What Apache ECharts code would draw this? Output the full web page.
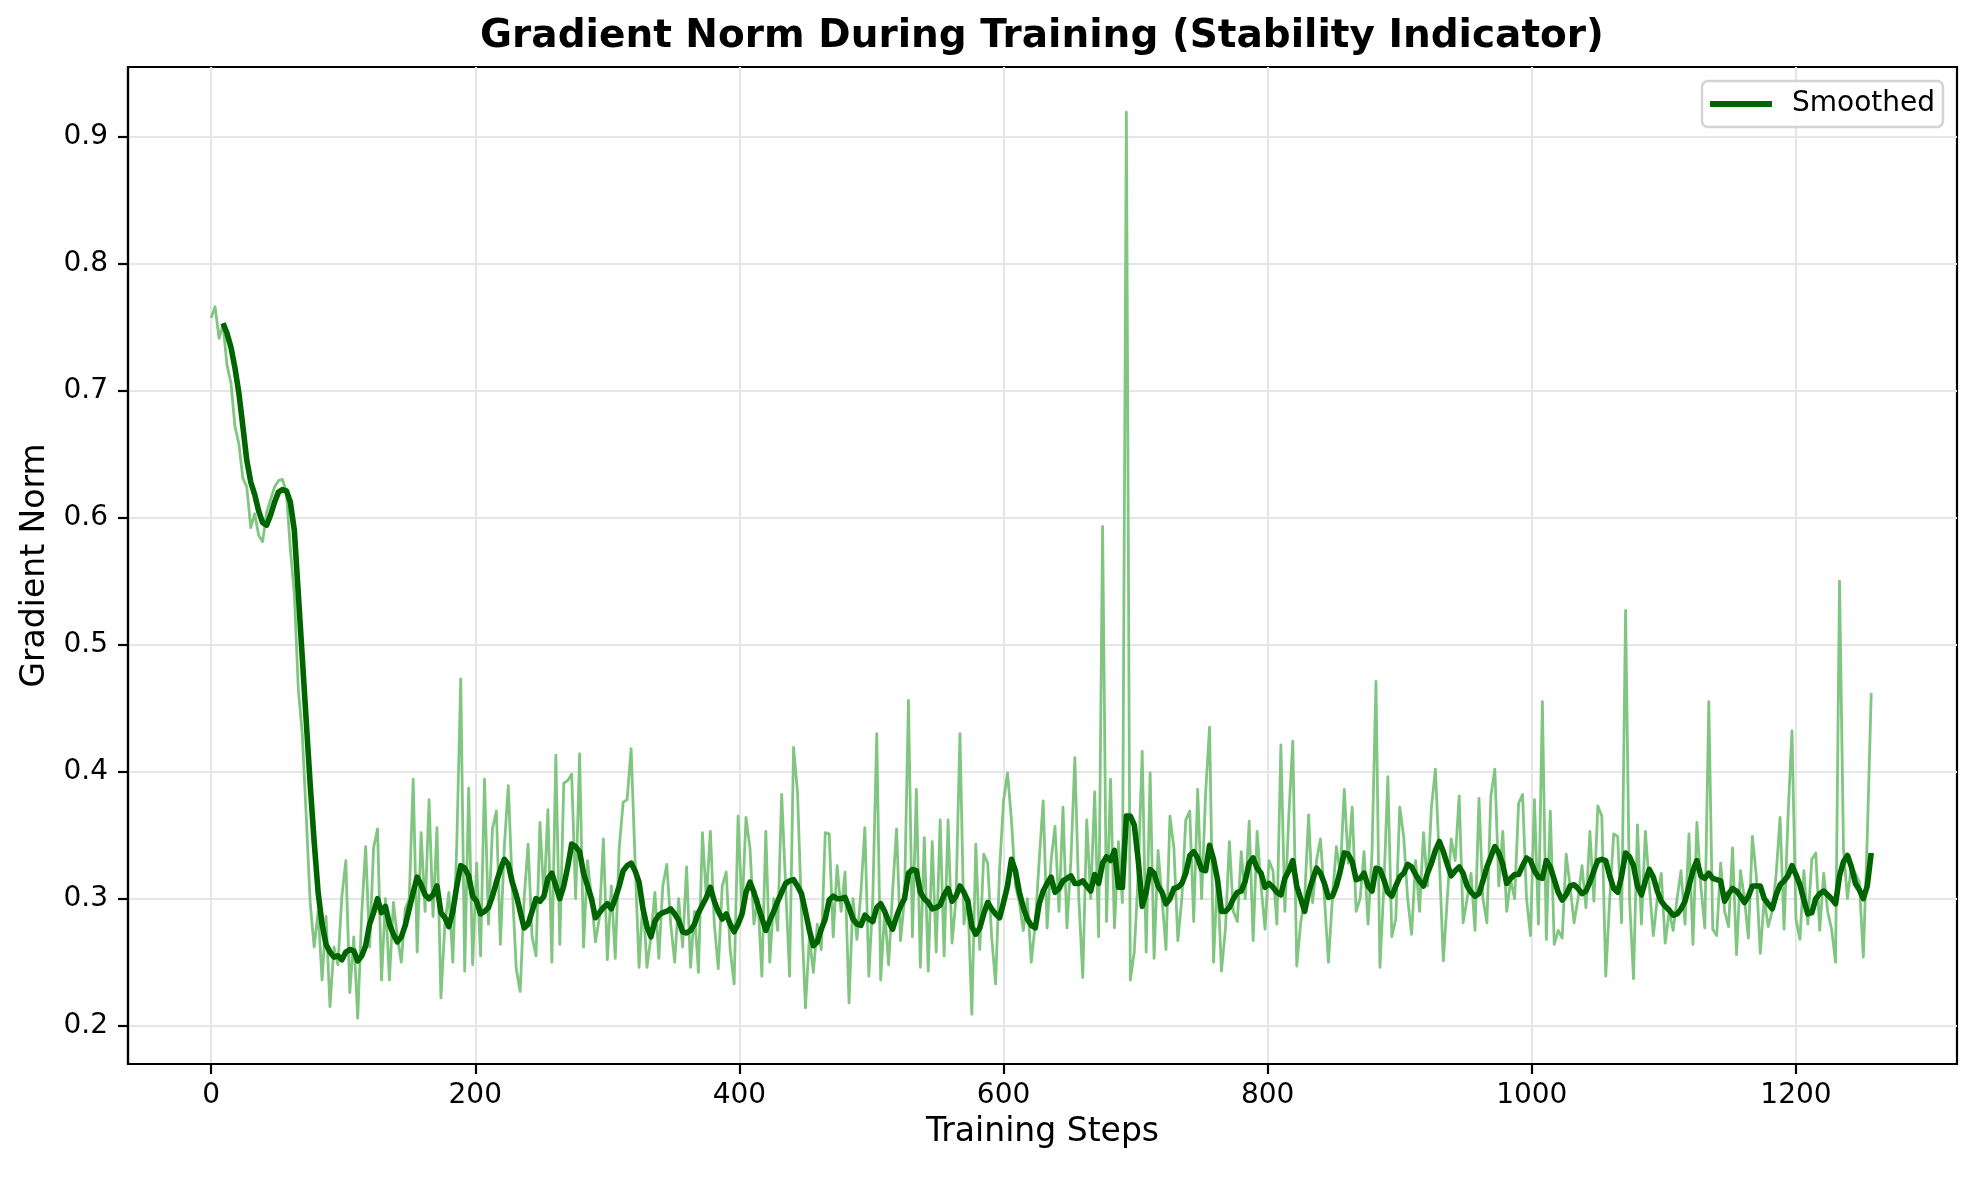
<!DOCTYPE html>
<html lang="en">

<head>
    <meta charset="UTF-8">
    <title>Gradient Norm During Training</title>
    <style>
        * {
            margin: 0;
            padding: 0;
        }

        body {
            background-color: white;
        }

        #main {
            width: 1977px;
            height: 1177px;
        }
    </style>
    <script src="https://cdn.jsdelivr.net/npm/echarts@6/dist/echarts.min.js"></script>
</head>

<body>

<div id="main"></div>
<script>
    // raw gradient norm, read every 3rd step starting at step 0
    const RAW_START = 0;
    const RAW_STRIDE = 3;
    const rawNorm = [
        0.757, 0.766, 0.741, 0.752, 0.72, 0.706, 0.672, 0.658, 0.631, 0.624,
        0.592, 0.603, 0.586, 0.581, 0.604, 0.614, 0.624, 0.629, 0.63, 0.62,
        0.575, 0.54, 0.465, 0.43, 0.365, 0.297, 0.262, 0.29, 0.236, 0.286,
        0.215, 0.262, 0.248, 0.302, 0.33, 0.226, 0.27, 0.206, 0.288, 0.341,
        0.262, 0.34, 0.355, 0.236, 0.3, 0.236, 0.297, 0.27, 0.25, 0.292,
        0.3, 0.394, 0.258, 0.352, 0.29, 0.378, 0.286, 0.356, 0.222, 0.28,
        0.305, 0.25, 0.343, 0.473, 0.243, 0.387, 0.248, 0.328, 0.255, 0.394,
        0.28, 0.355, 0.369, 0.264, 0.341, 0.389, 0.31, 0.245, 0.227, 0.3,
        0.343, 0.27, 0.255, 0.36, 0.3, 0.37, 0.25, 0.413, 0.264, 0.391,
        0.393, 0.398, 0.3, 0.414, 0.262, 0.33, 0.3, 0.266, 0.285, 0.347,
        0.252, 0.31, 0.253, 0.34, 0.376, 0.378, 0.418, 0.33, 0.246, 0.3,
        0.246, 0.27, 0.305, 0.253, 0.31, 0.327, 0.28, 0.25, 0.3, 0.262,
        0.325, 0.246, 0.29, 0.242, 0.352, 0.3, 0.353, 0.28, 0.245, 0.31,
        0.321, 0.26, 0.233, 0.365, 0.29, 0.364, 0.34, 0.28, 0.3, 0.239,
        0.353, 0.25, 0.3, 0.275, 0.382, 0.31, 0.239, 0.419, 0.384, 0.29,
        0.214, 0.27, 0.242, 0.28, 0.26, 0.352, 0.351, 0.27, 0.326, 0.29,
        0.321, 0.218, 0.3, 0.268, 0.305, 0.356, 0.239, 0.3, 0.43, 0.236,
        0.29, 0.248, 0.306, 0.355, 0.267, 0.3, 0.456, 0.27, 0.386, 0.246,
        0.348, 0.243, 0.345, 0.258, 0.362, 0.255, 0.362, 0.265, 0.3, 0.43,
        0.28, 0.3, 0.209, 0.343, 0.26, 0.335, 0.328, 0.27, 0.233, 0.323,
        0.377, 0.399, 0.362, 0.31, 0.297, 0.275, 0.3, 0.25, 0.28, 0.33,
        0.377, 0.277, 0.33, 0.357, 0.29, 0.372, 0.277, 0.33, 0.411, 0.3,
        0.238, 0.362, 0.3, 0.384, 0.27, 0.593, 0.282, 0.394, 0.277, 0.345,
        0.297, 0.919, 0.236, 0.258, 0.32, 0.416, 0.258, 0.399, 0.253, 0.338,
        0.3, 0.26, 0.365, 0.34, 0.267, 0.3, 0.362, 0.369, 0.282, 0.386,
        0.3, 0.383, 0.435, 0.25, 0.32, 0.243, 0.276, 0.345, 0.29, 0.282,
        0.337, 0.3, 0.361, 0.267, 0.353, 0.31, 0.276, 0.33, 0.322, 0.28,
        0.421, 0.29, 0.365, 0.424, 0.247, 0.281, 0.3, 0.366, 0.297, 0.33,
        0.347, 0.3, 0.25, 0.3, 0.341, 0.32, 0.386, 0.328, 0.372, 0.29,
        0.3, 0.337, 0.28, 0.336, 0.471, 0.246, 0.31, 0.396, 0.27, 0.284,
        0.372, 0.349, 0.3, 0.272, 0.33, 0.29, 0.352, 0.31, 0.372, 0.402,
        0.33, 0.251, 0.3, 0.347, 0.33, 0.381, 0.281, 0.3, 0.32, 0.275,
        0.379, 0.3, 0.281, 0.381, 0.402, 0.31, 0.353, 0.29, 0.315, 0.3,
        0.375, 0.382, 0.3, 0.271, 0.378, 0.28, 0.455, 0.268, 0.369, 0.264,
        0.275, 0.269, 0.335, 0.31, 0.281, 0.3, 0.326, 0.293, 0.353, 0.298,
        0.373, 0.365, 0.239, 0.3, 0.351, 0.349, 0.281, 0.527, 0.3, 0.237,
        0.358, 0.28, 0.353, 0.31, 0.271, 0.3, 0.32, 0.265, 0.29, 0.275,
        0.3, 0.322, 0.28, 0.351, 0.264, 0.36, 0.31, 0.277, 0.455, 0.276,
        0.271, 0.328, 0.29, 0.278, 0.34, 0.256, 0.322, 0.3, 0.269, 0.349,
        0.318, 0.257, 0.3, 0.278, 0.29, 0.319, 0.364, 0.276, 0.365, 0.432,
        0.284, 0.268, 0.322, 0.28, 0.331, 0.336, 0.275, 0.32, 0.29, 0.276,
        0.25, 0.55, 0.339, 0.3, 0.326, 0.32, 0.313, 0.254, 0.348, 0.462
    ];

    // smoothed curve, read every 3rd step starting at step 9
    const SMOOTH_START = 9;
    const SMOOTH_STRIDE = 3;
    const smoothedNorm = [
        0.753, 0.745, 0.734, 0.718, 0.698, 0.672, 0.645, 0.628, 0.618, 0.605,
        0.596, 0.594, 0.602, 0.612, 0.62, 0.622, 0.621, 0.612, 0.59, 0.54,
        0.49, 0.44, 0.39, 0.345, 0.305, 0.28, 0.264, 0.258, 0.254, 0.255,
        0.252, 0.258, 0.26, 0.259, 0.251, 0.255, 0.263, 0.28, 0.289, 0.3,
        0.289, 0.294, 0.28, 0.272, 0.266, 0.27, 0.279, 0.292, 0.305, 0.317,
        0.311, 0.303, 0.3, 0.303, 0.31, 0.289, 0.285, 0.278, 0.29, 0.31,
        0.326, 0.324, 0.318, 0.302, 0.298, 0.288, 0.29, 0.293, 0.302, 0.313,
        0.323, 0.331, 0.327, 0.313, 0.303, 0.29, 0.277, 0.28, 0.29, 0.3,
        0.298, 0.302, 0.316, 0.32, 0.31, 0.3, 0.31, 0.325, 0.343, 0.341,
        0.337, 0.32, 0.31, 0.3, 0.285, 0.289, 0.293, 0.296, 0.292, 0.3,
        0.31, 0.322, 0.326, 0.328, 0.322, 0.313, 0.292, 0.278, 0.27, 0.282,
        0.287, 0.289, 0.29, 0.292, 0.288, 0.283, 0.274, 0.273, 0.275, 0.28,
        0.289, 0.295, 0.301, 0.309, 0.298, 0.29, 0.284, 0.288, 0.28, 0.274,
        0.28, 0.288, 0.305, 0.313, 0.305, 0.295, 0.285, 0.275, 0.283, 0.29,
        0.298, 0.305, 0.312, 0.314, 0.315, 0.31, 0.304, 0.29, 0.275, 0.263,
        0.266, 0.276, 0.284, 0.299, 0.302, 0.3, 0.3, 0.301, 0.293, 0.284,
        0.28, 0.279, 0.287, 0.284, 0.282, 0.293, 0.296, 0.29, 0.282, 0.276,
        0.286, 0.294, 0.3, 0.32, 0.323, 0.322, 0.305, 0.3, 0.297, 0.292,
        0.293, 0.295, 0.303, 0.308, 0.298, 0.302, 0.31, 0.305, 0.298, 0.278,
        0.272, 0.277, 0.288, 0.297, 0.292, 0.288, 0.285, 0.297, 0.31, 0.331,
        0.322, 0.305, 0.293, 0.284, 0.279, 0.277, 0.296, 0.306, 0.312, 0.317,
        0.305, 0.308, 0.314, 0.316, 0.318, 0.312, 0.312, 0.314, 0.31, 0.306,
        0.319, 0.312, 0.328, 0.333, 0.33, 0.338, 0.309, 0.309, 0.365, 0.365,
        0.358, 0.33, 0.294, 0.305, 0.323, 0.32, 0.31, 0.305, 0.296, 0.3,
        0.308, 0.309, 0.312, 0.32, 0.334, 0.337, 0.332, 0.323, 0.322, 0.342,
        0.331, 0.315, 0.29, 0.29, 0.293, 0.3, 0.305, 0.306, 0.314, 0.328,
        0.332, 0.324, 0.32, 0.309, 0.312, 0.309, 0.305, 0.303, 0.316, 0.322,
        0.33, 0.31, 0.3, 0.29, 0.305, 0.315, 0.324, 0.32, 0.312, 0.301,
        0.302, 0.31, 0.322, 0.336, 0.335, 0.329, 0.315, 0.316, 0.32, 0.31,
        0.306, 0.324, 0.323, 0.315, 0.305, 0.302, 0.31, 0.317, 0.32, 0.327,
        0.325, 0.319, 0.314, 0.31, 0.32, 0.328, 0.338, 0.345, 0.337, 0.327,
        0.318, 0.322, 0.325, 0.32, 0.31, 0.305, 0.302, 0.304, 0.314, 0.325,
        0.333, 0.341, 0.336, 0.327, 0.312, 0.316, 0.319, 0.319, 0.326, 0.332,
        0.33, 0.322, 0.317, 0.316, 0.33, 0.325, 0.315, 0.305, 0.299, 0.303,
        0.31, 0.311, 0.308, 0.304, 0.306, 0.313, 0.322, 0.33, 0.331, 0.33,
        0.318, 0.308, 0.305, 0.318, 0.336, 0.333, 0.326, 0.31, 0.303, 0.314,
        0.323, 0.317, 0.306, 0.298, 0.294, 0.291, 0.287, 0.288, 0.292, 0.298,
        0.31, 0.322, 0.33, 0.318, 0.316, 0.32, 0.316, 0.315, 0.314, 0.298,
        0.304, 0.308, 0.306, 0.302, 0.297, 0.302, 0.31, 0.31, 0.31, 0.3,
        0.296, 0.292, 0.303, 0.311, 0.314, 0.318, 0.326, 0.319, 0.311, 0.299,
        0.288, 0.289, 0.3, 0.304, 0.306, 0.303, 0.3, 0.296, 0.318, 0.329,
        0.334, 0.325, 0.312, 0.307, 0.3, 0.31, 0.336
    ];

    const xTicks = [0, 200, 400, 600, 800, 1000, 1200];
    const yTicks = [0.2, 0.3, 0.4, 0.5, 0.6, 0.7, 0.8, 0.9];

    function toPairs(start, stride, values) {
        return values.map(function (v, i) {
            return [start + i * stride, v];
        });
    }

    var myChart = echarts.init(document.getElementById('main'));

    var font = 'DejaVu Sans';
    var gridColor = '#e6e6e6';

    var option = {
        animation: false,
        backgroundColor: '#ffffff',
        textStyle: {
            fontFamily: font
        },
        title: {
            text: 'Gradient Norm During Training (Stability Indicator)',
            left: 1037,
            top: 12,
            textAlign: 'center',
            textStyle: {
                fontSize: 39,
                fontWeight: 'bold',
                color: '#000',
                fontFamily: font
            }
        },
        legend: {
            data: [{ name: 'Smoothed', icon: 'rect' }],
            right: 34,
            top: 81,
            padding: [9, 8, 9, 8],
            itemWidth: 62,
            itemHeight: 6,
            backgroundColor: 'rgba(255,255,255,0.8)',
            borderColor: '#d4d4d4',
            borderWidth: 2.5,
            borderRadius: 6,
            textStyle: {
                fontSize: 28,
                color: '#000',
                fontFamily: font,
                padding: [0, 0, 0, 15]
            }
        },
        grid: {
            left: 128,
            right: 20,
            top: 67,
            bottom: 113,
            show: true,
            borderColor: '#000',
            borderWidth: 2.2,
            containLabel: false,
            outerBoundsMode: 'none'
        },
        xAxis: {
            type: 'value',
            min: -62.95,
            max: 1321.95,
            splitNumber: 7,
            name: 'Training Steps',
            nameLocation: 'middle',
            nameGap: 52,
            nameTextStyle: {
                fontSize: 33,
                color: '#000',
                fontFamily: font
            },
            axisLine: {
                show: true,
                onZero: false,
                lineStyle: { color: '#000', width: 2.2 }
            },
            axisTick: {
                show: true,
                length: 10,
                customValues: xTicks,
                lineStyle: { color: '#000', width: 2.2 }
            },
            axisLabel: {
                customValues: xTicks,
                fontSize: 28,
                color: '#000',
                margin: 18,
                fontFamily: font,
                formatter: function (v) {
                    return String(v);
                }
            },
            splitLine: {
                show: true,
                lineStyle: { color: gridColor, width: 2.2 }
            }
        },
        yAxis: {
            type: 'value',
            min: 0.1699,
            max: 0.9546,
            splitNumber: 8,
            name: 'Gradient Norm',
            nameLocation: 'middle',
            nameGap: 76,
            nameTextStyle: {
                fontSize: 33,
                color: '#000',
                fontFamily: font
            },
            axisLine: {
                show: true,
                onZero: false,
                lineStyle: { color: '#000', width: 2.2 }
            },
            axisTick: {
                show: true,
                length: 10,
                customValues: yTicks,
                lineStyle: { color: '#000', width: 2.2 }
            },
            axisLabel: {
                customValues: yTicks,
                fontSize: 28,
                color: '#000',
                margin: 20,
                fontFamily: font,
                formatter: function (v) {
                    return v.toFixed(1);
                }
            },
            splitLine: {
                show: true,
                lineStyle: { color: gridColor, width: 2.2 }
            }
        },
        series: [
            {
                name: 'Raw',
                type: 'line',
                symbol: 'none',
                silent: true,
                data: toPairs(RAW_START, RAW_STRIDE, rawNorm),
                lineStyle: {
                    color: '#80c680',
                    width: 2.8,
                    join: 'round'
                },
                itemStyle: { color: '#80c680' },
                z: 2
            },
            {
                name: 'Smoothed',
                type: 'line',
                symbol: 'none',
                data: toPairs(SMOOTH_START, SMOOTH_STRIDE, smoothedNorm),
                lineStyle: {
                    color: '#006400',
                    width: 5.6,
                    join: 'round'
                },
                itemStyle: { color: '#006400' },
                z: 3
            }
        ]
    };

    myChart.setOption(option);
</script>

</body>

</html>
